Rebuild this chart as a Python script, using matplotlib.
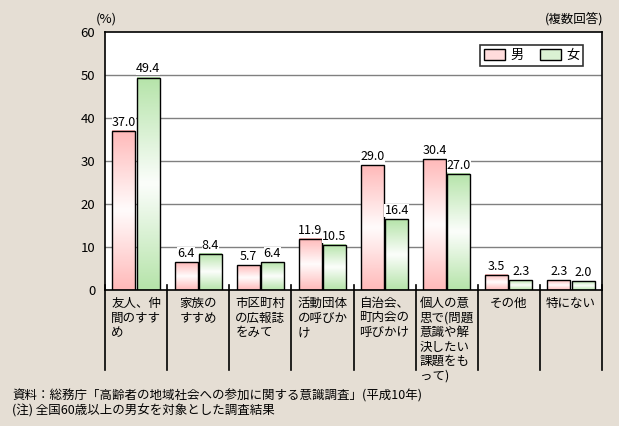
import numpy as np
import matplotlib.pyplot as plt
from matplotlib.colors import LinearSegmentedColormap
from matplotlib.patches import Patch
import matplotlib.transforms as mtransforms

plt.rcParams['font.family'] = ['Noto Sans CJK JP', 'DejaVu Sans']

# data
categories = ['友人、仲\n間のすす\nめ', '家族の\nすすめ', '市区町村\nの広報誌\nをみて',
              '活動団体\nの呼びか\nけ', '自治会、\n町内会の\n呼びかけ',
              '個人の意\n思で(問題\n意識や解\n決したい\n課題をも\nって)',
              'その他', '特にない']
male = [37.0, 6.4, 5.7, 11.9, 29.0, 30.4, 3.5, 2.3]
female = [49.4, 8.4, 6.4, 10.5, 16.4, 27.0, 2.3, 2.0]
series_names = ['男', '女']

bg = '#e5ded4'
pink = '#ffbaba'
green = '#b6e4aa'

fig = plt.figure(figsize=(6.19, 4.26), dpi=100, facecolor=bg)
ax = fig.add_axes([105 / 619, 1 - 290 / 426, 497 / 619, 258 / 426])
ax.set_xlim(0, len(categories))
ax.set_ylim(0, 60)

# gridlines
for v in range(10, 60, 10):
    ax.axhline(v, color='#808080', lw=1, zorder=1)

grad = np.linspace(0, 1, 64)
grad = 1 - np.abs(grad - 0.5) * 2  # 0 at ends, 1 in middle


def draw_bars(x0, vals, col, width):
    cmap = LinearSegmentedColormap.from_list('g', [col, 'white'])
    for i, v in enumerate(vals):
        left = i + x0
        ax.imshow(grad.reshape(-1, 1), cmap=cmap, vmin=0, vmax=1.05,
                  extent=[left, left + width, 0, v], aspect='auto',
                  origin='lower', zorder=2, interpolation='bilinear')
    ax.bar(np.arange(len(vals)) + x0, vals, width=width, align='edge',
           facecolor='none', edgecolor='black', lw=1, zorder=3)
    for i, v in enumerate(vals):
        ax.annotate(f'{v:.1f}', (i + x0 + width / 2, v), xytext=(0, 1.5),
                    textcoords='offset points', ha='center', va='bottom',
                    fontsize=9, zorder=4,
                    bbox=dict(facecolor='white', edgecolor='none', pad=0))


w = 0.37
draw_bars(0.12, male, pink, w)
draw_bars(0.51, female, green, w)

ax.set_xlim(0, len(categories))
ax.set_ylim(0, 60)
ax.set_xticks([])
ax.set_yticks(range(0, 61, 10))
ax.tick_params(axis='y', length=0, pad=7, labelsize=9.5)
for s in ax.spines.values():
    s.set_color('black')
    s.set_linewidth(1.2)

# category dividers and labels below the axis
trans = mtransforms.blended_transform_factory(ax.transData, ax.transAxes)
for b in range(len(categories) + 1):
    ax.plot([b, b], [5 / 258, -80 / 258], color='black', lw=1.2,
            transform=trans, clip_on=False, zorder=5)
for i, lab in enumerate(categories):
    ax.text(i + 0.5, -7 / 258, lab, transform=trans, ha='center', va='top',
            multialignment='left', fontsize=9, linespacing=1.15)

leg = ax.legend(handles=[Patch(facecolor='#ffdcdc', edgecolor='black', label=series_names[0]),
                         Patch(facecolor='#daf1d3', edgecolor='black', label=series_names[1])],
                loc='upper right', bbox_to_anchor=(0.962, 0.95), borderaxespad=0,
                ncol=2, fancybox=False, edgecolor='black', fontsize=9.5,
                handlelength=1.6, handleheight=0.9, columnspacing=1.2,
                handletextpad=0.4, borderpad=0.3)
leg.get_frame().set_linewidth(1.2)

fig.text(96 / 619, 1 - 19 / 426, '(%)', fontsize=9.5, va='center')
fig.text(603 / 619, 1 - 19 / 426, '(複数回答)', fontsize=9, va='center', ha='right')
fig.text(12 / 619, 1 - 396 / 426,
         '資料：総務庁「高齢者の地域社会への参加に関する意識調査」(平成10年)',
         fontsize=9, va='center')
fig.text(12 / 619, 1 - 411 / 426,
         '(注) 全国60歳以上の男女を対象とした調査結果',
         fontsize=9, va='center')

fig.savefig('out.png', dpi=100, facecolor=bg)
